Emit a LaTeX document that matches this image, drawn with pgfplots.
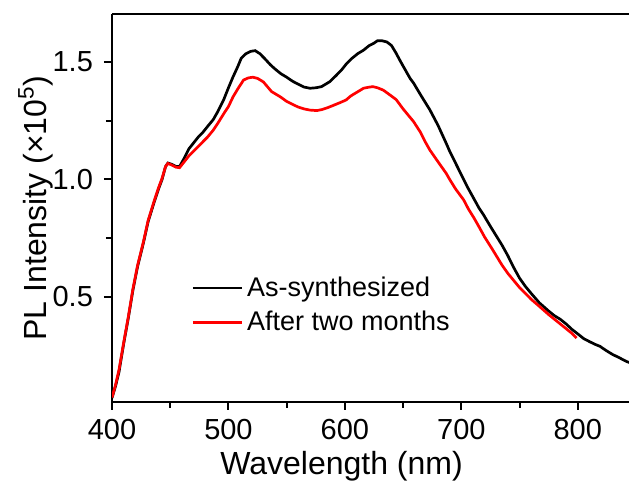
\documentclass[border=0pt]{standalone}
\usepackage{fontspec}
\setmainfont{Liberation Sans}
\usepackage{pgfplots}
\pgfplotsset{compat=1.18}

\begin{document}
\begin{tikzpicture}
\begin{axis}[scale only axis,width=258.5pt,height=194pt,
  xmin=400,xmax=844,ymin=0.053,ymax=1.704,
  axis x line*=box,axis y line*=left,
  axis line style={line width=1.2pt},
  xtick={400,500,600,700,800},ytick={0.5,1.0,1.5},
  minor x tick num=1,minor y tick num=1,
  xtick pos=left,ytick pos=left,tick align=outside,
  major tick length=4pt,minor tick length=3pt,
  every tick/.style={line width=1pt,black},
  /pgf/number format/assume math mode=true,
  yticklabel style={/pgf/number format/fixed,/pgf/number format/fixed zerofill,/pgf/number format/precision=1,xshift=-2pt},
  xticklabel style={yshift=-1pt},
  tick label style={font=\fontsize{14.5}{17}\selectfont},
  label style={font=\fontsize{16}{19}\selectfont},
  xlabel={Wavelength (nm)},
  ylabel={PL Intensity (×10\textsuperscript{5})},
  xlabel style={at={(axis description cs:0.444,-0.165)},anchor=center},
  ylabel style={at={(axis description cs:-0.148,0.5)},anchor=center},
  legend style={at={(axis description cs:0.153,0.334)},anchor=north west,draw=none,fill=none,
    inner sep=0pt,font=\fontsize{13.5}{15.5}\selectfont,row sep=2pt,
    /tikz/every even column/.append style={column sep=4pt}},
  legend cell align=left,
  legend image code/.code={\draw[#1,line width=1.3pt] (0pt,0pt) -- (24.5pt,0pt);},
  ]
% As-synthesized
\addplot[black,line width=1.35pt] coordinates {
(400,0.07) (403,0.12) (406,0.18) (410,0.30) (414,0.41) (418,0.53) (422,0.63)
(427,0.73) (431,0.82) (436,0.90) (440,0.96) (443,1.00) (446,1.055) (448,1.07)
(451,1.065) (455,1.055) (458,1.055) (462,1.09) (466,1.13) (470,1.155) (474,1.18)
(478,1.20) (482,1.225) (487,1.255) (491,1.29) (496,1.34) (500,1.39) (504,1.437)
(508,1.48) (511,1.516) (515,1.535) (519,1.545) (523,1.548) (527,1.535) (531,1.515)
(536,1.488) (540,1.47) (545,1.45) (550,1.435) (555,1.418) (560,1.405) (565,1.393)
(570,1.388) (575,1.39) (580,1.395) (587,1.416) (592,1.44) (597,1.465) (601,1.49)
(606,1.515) (611,1.535) (616,1.55) (621,1.57) (625,1.58) (628,1.59) (632,1.59)
(636,1.585) (640,1.57) (644,1.537) (648,1.50) (652,1.465) (656,1.43) (659,1.41)
(665,1.36) (670,1.32) (673,1.296) (680,1.23) (687,1.154) (690,1.12) (695,1.07)
(701,1.01) (705,0.97) (710,0.925) (715,0.88) (719,0.85) (725,0.80) (730,0.76)
(735,0.72) (740,0.675) (745,0.625) (750,0.58) (755,0.545) (760,0.515) (767,0.475)
(775,0.44) (780,0.42) (785,0.405) (790,0.385) (795,0.362) (802,0.335) (805,0.323)
(810,0.31) (815,0.298) (819,0.29) (825,0.27) (830,0.255) (835,0.243) (842,0.225) (845,0.22)
};
% After two months
\addplot[red,line width=1.35pt] coordinates {
(400,0.072) (403,0.125) (406,0.19) (410,0.305) (414,0.415) (418,0.535) (422,0.635)
(427,0.735) (431,0.825) (436,0.905) (440,0.965) (443,1.005) (446,1.055) (448,1.068)
(451,1.062) (455,1.052) (458,1.05) (462,1.075) (466,1.10) (470,1.12) (474,1.14)
(478,1.16) (482,1.18) (487,1.21) (491,1.24) (496,1.28) (500,1.31) (504,1.352)
(508,1.385) (513,1.423) (517,1.432) (521,1.435) (525,1.43) (530,1.415) (537,1.374)
(540,1.365) (545,1.35) (550,1.332) (556,1.317) (560,1.308) (565,1.30) (570,1.295)
(576,1.293) (580,1.297) (585,1.305) (590,1.315) (595,1.325) (601,1.338) (605,1.355)
(610,1.37) (616,1.388) (620,1.392) (624,1.395) (628,1.39) (633,1.38) (638,1.362)
(644,1.34) (650,1.30) (655,1.27) (659,1.246) (665,1.20) (669,1.16) (673,1.125)
(680,1.075) (687,1.026) (690,1.00) (695,0.96) (702,0.913) (706,0.875) (711,0.835)
(715,0.80) (720,0.755) (727,0.70) (735,0.635) (740,0.60) (745,0.57) (750,0.54)
(755,0.515) (760,0.49) (767,0.46) (775,0.425) (780,0.405) (785,0.385) (790,0.365)
(795,0.345) (799,0.325)
};
\legend{As-synthesized,After two months}
\end{axis}
\pgfresetboundingbox
\path[use as bounding box] ([xshift=-56pt,yshift=-41pt]current axis.south west) rectangle ([yshift=7pt]current axis.north east);
\end{tikzpicture}
\end{document}
